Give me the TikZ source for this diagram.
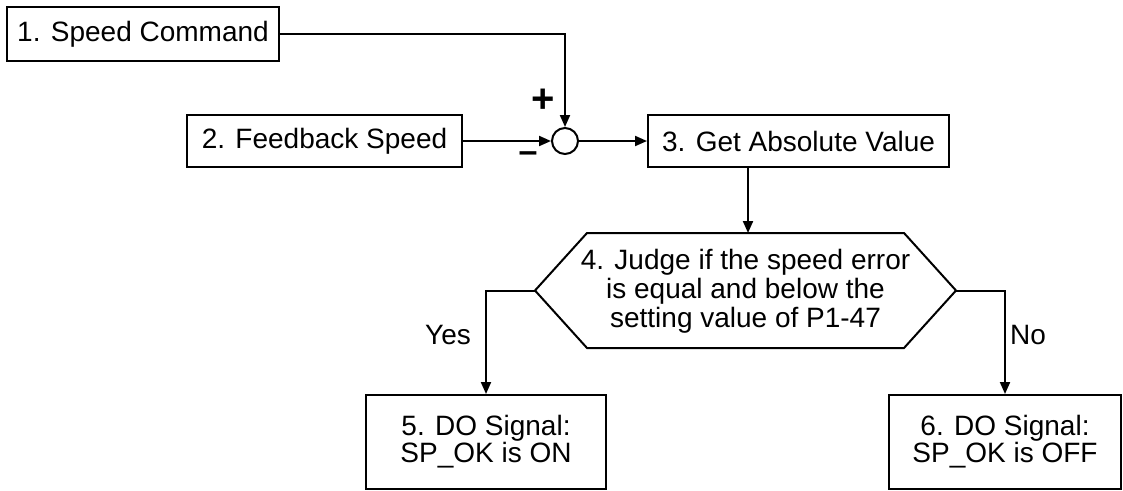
\documentclass[tikz,border=0pt]{standalone}
\usepackage{fontspec}
\setmainfont{Liberation Sans}
\usetikzlibrary{arrows.meta}
\begin{document}
\begin{tikzpicture}[x=1pt,y=-1pt,
  every node/.style={font=\fontsize{28}{25}\selectfont},
  box/.style={draw,line width=2pt,inner sep=0pt,align=center},
  arr/.style={line width=2pt,-{Triangle[length=12pt,width=10pt]}},
  ln/.style={line width=2pt},
  lbl/.style={inner sep=0pt}]
\useasboundingbox (0,0) rectangle (1123,490);
\node[box,minimum width=272pt,minimum height=54pt] (b1) at (143,34) {1. Speed Command};
\node[box,minimum width=275pt,minimum height=52pt] (b2) at (324.5,141) {2. Feedback Speed};
\node[draw,circle,line width=2pt,minimum size=26pt,inner sep=0pt] (sum) at (565,141) {};
\node[box,minimum width=301pt,minimum height=52pt] (b3) at (798.5,141) {3. Get Absolute Value};
\node[box,minimum width=240pt,minimum height=94pt] (b5) at (486,442) {5. DO Signal:\\SP\_OK is ON};
\node[box,minimum width=232pt,minimum height=94pt] (b6) at (1005,442) {6. DO Signal:\\SP\_OK is OFF};
% decision hexagon
\coordinate (hT) at (748,233);
\coordinate (hL) at (535,290.5);
\coordinate (hR) at (956,290.5);
\draw[ln,line join=miter] (587,233) -- (904,233) -- (hR) -- (904,348) -- (587,348) -- (hL) -- cycle;
\node[lbl,align=center,font=\fontsize{28}{29}\selectfont] (judge) at (745.5,291) {4. Judge if the speed error\\is equal and below the\\setting value of P1-47};
% signs
\node[lbl,font=\fontsize{40}{40}\selectfont\bfseries] (plus) at (543,101) {+};
\node[lbl,font=\fontsize{34}{34}\selectfont\bfseries] (minus) at (528,157) {–};
\node[lbl] (yes) at (448,335) {Yes};
\node[lbl] (no) at (1028,335) {No};
% connectors
\draw[arr] (b1.east) -| (sum.north);
\draw[arr] (b2.east) -- (sum.west);
\draw[arr] (sum.east) -- (b3.west);
\draw[arr] (b3.south -| hT) -- (hT);
\draw[arr] (hL) -| (b5.north);
\draw[arr] (hR) -| (b6.north);
\end{tikzpicture}
\end{document}
